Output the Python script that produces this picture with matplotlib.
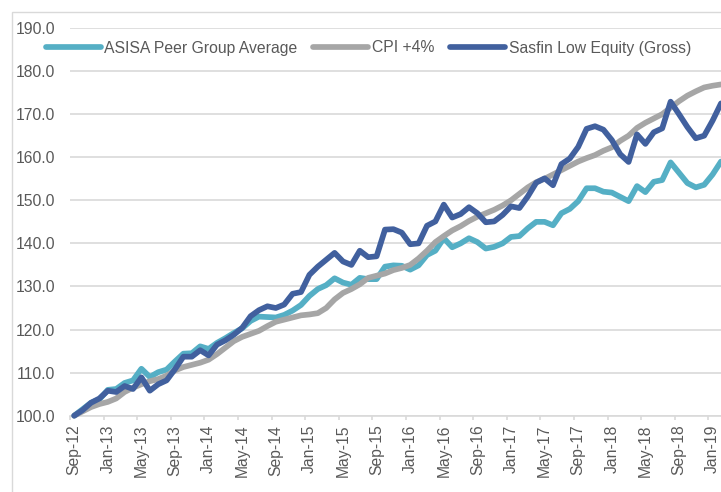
import matplotlib
matplotlib.use('Agg')
import matplotlib.pyplot as plt
from matplotlib.patches import Rectangle

plt.rcParams['font.family'] = ['Liberation Sans', 'DejaVu Sans']

# ---- data (monthly, Sep-12 .. Feb-19) ----
series_names = ["ASISA Peer Group Average", "CPI +4%", "Sasfin Low Equity (Gross)"]

asisa = [100.0, 101.5, 103.0, 103.8, 106.0, 106.2, 107.6, 108.2, 110.9, 109.0,
         110.1, 110.7, 112.6, 114.4, 114.5, 116.1, 115.5, 116.9, 118.0, 119.2,
         120.3, 122.0, 123.0, 122.9, 122.8, 123.4, 124.4, 125.7, 127.8, 129.4,
         130.3, 131.9, 130.9, 130.4, 132.0, 131.7, 131.7, 134.6, 134.9, 134.8,
         133.9, 134.9, 137.3, 138.3, 141.2, 139.1, 140.0, 141.2, 140.3, 138.8,
         139.2, 140.0, 141.5, 141.7, 143.5, 145.0, 145.0, 144.2, 147.0, 148.0,
         149.8, 152.8, 152.8, 152.0, 151.8, 150.8, 149.8, 153.3, 151.9, 154.3,
         154.7, 158.8, 156.4, 154.0, 153.0, 153.6, 156.0, 159.0]

cpi = [100.0, 101.0, 102.0, 102.7, 103.2, 104.0, 105.5, 106.5, 107.3, 108.0,
       108.5, 109.3, 110.5, 111.3, 111.8, 112.3, 113.0, 114.3, 115.8, 117.3,
       118.3, 119.0, 119.7, 120.8, 121.8, 122.3, 122.8, 123.3, 123.5, 123.8,
       125.0, 127.0, 128.5, 129.4, 130.5, 132.0, 132.5, 133.0, 133.8, 134.3,
       135.0, 136.5, 138.3, 140.3, 141.7, 143.0, 144.0, 145.2, 146.2, 147.0,
       147.8, 148.8, 150.0, 151.5, 153.0, 154.2, 155.0, 156.0, 157.0, 158.0,
       159.0, 159.8, 160.5, 161.5, 162.3, 163.8, 165.0, 166.8, 168.0, 169.0,
       170.0, 171.5, 173.0, 174.3, 175.3, 176.2, 176.6, 176.9]

sasfin = [100.0, 101.3, 103.0, 104.0, 105.8, 105.5, 106.9, 106.2, 108.9, 105.8,
          107.3, 108.2, 110.8, 113.7, 113.7, 115.2, 114.0, 116.5, 117.5, 118.8,
          120.4, 123.1, 124.5, 125.4, 125.0, 125.8, 128.3, 128.7, 132.7, 134.6,
          136.2, 137.8, 135.8, 135.0, 138.3, 136.8, 137.0, 143.2, 143.3, 142.5,
          139.8, 140.0, 144.1, 145.1, 149.0, 146.0, 146.8, 148.4, 147.0, 144.9,
          145.1, 146.6, 148.6, 148.2, 150.9, 154.1, 155.1, 153.5, 158.4, 159.7,
          162.4, 166.6, 167.2, 166.4, 164.0, 160.7, 158.9, 165.3, 163.1, 165.8,
          166.7, 172.9, 170.0, 167.0, 164.4, 165.0, 168.5, 172.5]

tick_labels = ["Sep-12", "Jan-13", "May-13", "Sep-13", "Jan-14", "May-14", "Sep-14",
               "Jan-15", "May-15", "Sep-15", "Jan-16", "May-16", "Sep-16", "Jan-17",
               "May-17", "Sep-17", "Jan-18", "May-18", "Sep-18", "Jan-19"]
y_ticks = [100, 110, 120, 130, 140, 150, 160, 170, 180, 190]

colors = ["#55AFC5", "#A6A6A6", "#41609E"]
text_color = "#595959"
grid_color = "#D9D9D9"
fs = 11.3

fig = plt.figure(figsize=(7.21, 4.92), dpi=100)
fig.patches.append(Rectangle((12/721, -0.1), 1.2, (1 - 12/492) + 0.1,
                             transform=fig.transFigure, fill=False,
                             ec=grid_color, lw=1.0))

ax = fig.add_axes([70/721, (492 - 415.7)/492, 651/721, (415.7 - 28)/492])
ax.patch.set_alpha(0)

x = list(range(len(asisa)))
handles = []
for data, col, name in zip([asisa, cpi, sasfin], colors, series_names):
    h, = ax.plot(x, data, color=col, lw=4.1, solid_capstyle='round',
                 solid_joinstyle='round', clip_on=False, label=name, zorder=3)
    handles.append(h)

ax.set_xlim(-0.5, 77.0)
ax.set_ylim(100, 190)
ax.set_yticks(y_ticks)
ax.set_yticklabels([f"{v:.1f}" for v in y_ticks])
ax.grid(axis='y', color=grid_color, lw=1.2)
ax.set_axisbelow(True)

for s in ['top', 'right', 'left']:
    ax.spines[s].set_visible(False)
ax.spines['bottom'].set_color(grid_color)
ax.spines['bottom'].set_linewidth(1.2)
ax.spines['bottom'].set_zorder(1)

major = list(range(0, 4 * len(tick_labels), 4))
ax.set_xticks(major)
ax.set_xticklabels(tick_labels, rotation=90)
ax.set_xticks([m - 0.5 for m in major], minor=True)
ax.tick_params(axis='x', which='major', length=0, pad=6.5, labelsize=fs,
               labelcolor=text_color)
ax.tick_params(axis='x', which='minor', length=3.2, width=1.2, color=grid_color,
               direction='out')
ax.tick_params(axis='y', length=0, pad=10.5, labelsize=fs, labelcolor=text_color)

fig.legend(handles, series_names, loc='center',
           bbox_to_anchor=(368.5/721, 1 - 48/492), ncol=3, frameon=False,
           handlelength=3.5, handletextpad=0.25, columnspacing=1.0,
           fontsize=fs, labelcolor=text_color, borderpad=0, borderaxespad=0)

fig.savefig("out.png", dpi=100)
